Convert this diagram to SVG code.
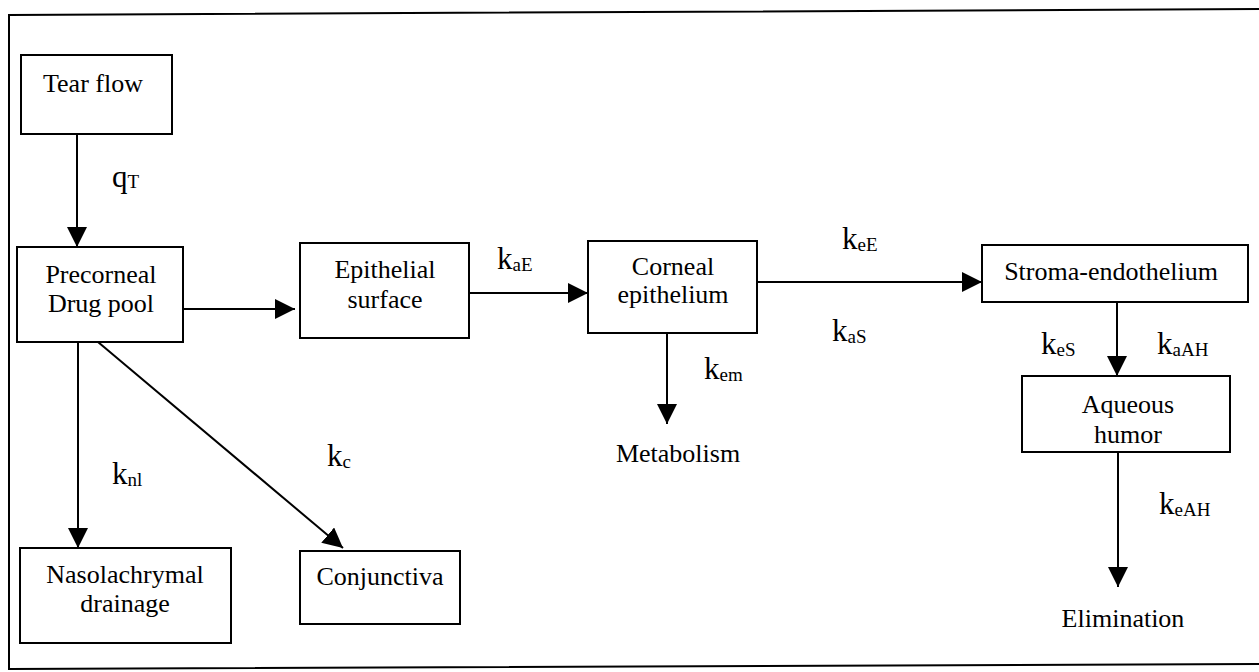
<svg xmlns="http://www.w3.org/2000/svg" width="1259" height="672" viewBox="0 0 1259 672">
<style>
.box{fill:#fff;stroke:#000;stroke-width:2}
.t{font-family:"Liberation Serif","Times New Roman",serif;font-size:26px;fill:#000;text-anchor:middle}
.l{font-family:"Liberation Serif","Times New Roman",serif;font-size:31px;fill:#000}
.s{font-size:19px}
.c{fill:none;stroke:#000;stroke-width:2}
</style>
<defs>
<marker id="ah" markerUnits="userSpaceOnUse" markerWidth="20" markerHeight="20" viewBox="0 0 20 20" refX="20" refY="10" orient="auto">
<path d="M0,0 L20,10 L0,20 Z" fill="#000"/>
</marker>
</defs>
<rect width="1259" height="672" fill="#fff"/>
<polyline points="1259,9 9,15 9,669 1259,664" fill="none" stroke="#000" stroke-width="2"/>

<g id="connectors">
<line class="c" x1="77" y1="134" x2="77" y2="247" marker-end="url(#ah)"/>
<line class="c" x1="183" y1="309" x2="295" y2="309" marker-end="url(#ah)"/>
<line class="c" x1="469" y1="293" x2="588" y2="293" marker-end="url(#ah)"/>
<line class="c" x1="757" y1="282" x2="982" y2="282" marker-end="url(#ah)"/>
<line class="c" x1="667" y1="333" x2="667" y2="424" marker-end="url(#ah)"/>
<line class="c" x1="1117" y1="302" x2="1117" y2="376" marker-end="url(#ah)"/>
<line class="c" x1="1118" y1="452" x2="1118" y2="587" marker-end="url(#ah)"/>
<line class="c" x1="78" y1="342" x2="78" y2="548" marker-end="url(#ah)"/>
<line class="c" x1="98" y1="342" x2="343" y2="548" marker-end="url(#ah)"/>
<text class="l" x="112" y="187">q<tspan class="s" dy="1">T</tspan></text>
<text class="l" x="112" y="484">k<tspan class="s" dy="2">nl</tspan></text>
<text class="l" x="327" y="466">k<tspan class="s" dy="2">c</tspan></text>
<text class="l" x="497" y="269">k<tspan class="s" dy="2">aE</tspan></text>
<text class="l" x="704" y="379">k<tspan class="s" dy="2">em</tspan></text>
<text class="l" x="842" y="249">k<tspan class="s" dy="2">eE</tspan></text>
<text class="l" x="832" y="341">k<tspan class="s" dy="2">aS</tspan></text>
<text class="l" x="1041" y="354">k<tspan class="s" dy="2">eS</tspan></text>
<text class="l" x="1157" y="354">k<tspan class="s" dy="2">aAH</tspan></text>
<text class="l" x="1159" y="514">k<tspan class="s" dy="2">eAH</tspan></text>
</g>

<g id="tear-flow">
<rect class="box" x="21" y="55" width="151" height="79"/>
<text class="t" x="93" y="92">Tear flow</text>
</g>
<g id="precorneal">
<rect class="box" x="17" y="247" width="166" height="95"/>
<text class="t" x="101" y="283">Precorneal</text>
<text class="t" x="101" y="312">Drug pool</text>
</g>
<g id="epithelial-surface">
<rect class="box" x="300" y="243" width="169" height="95"/>
<text class="t" x="385" y="278">Epithelial</text>
<text class="t" x="385" y="308">surface</text>
</g>
<g id="corneal-epithelium">
<rect class="box" x="588" y="241" width="169" height="92"/>
<text class="t" x="673" y="275">Corneal</text>
<text class="t" x="673" y="303">epithelium</text>
</g>
<g id="stroma-endothelium">
<rect class="box" x="982" y="245" width="266" height="57"/>
<text class="t" x="1111" y="280">Stroma-endothelium</text>
</g>
<g id="aqueous-humor">
<rect class="box" x="1022" y="376" width="208" height="76"/>
<text class="t" x="1128" y="413">Aqueous</text>
<text class="t" x="1128" y="443">humor</text>
</g>
<g id="metabolism">
<text class="t" x="678" y="462">Metabolism</text>
</g>
<g id="elimination">
<text class="t" x="1123" y="627">Elimination</text>
</g>
<g id="nasolachrymal">
<rect class="box" x="20" y="548" width="211" height="95"/>
<text class="t" x="125" y="583">Nasolachrymal</text>
<text class="t" x="125" y="612">drainage</text>
</g>
<g id="conjunctiva">
<rect class="box" x="300" y="551" width="160" height="73"/>
<text class="t" x="380" y="585">Conjunctiva</text>
</g>
</svg>
